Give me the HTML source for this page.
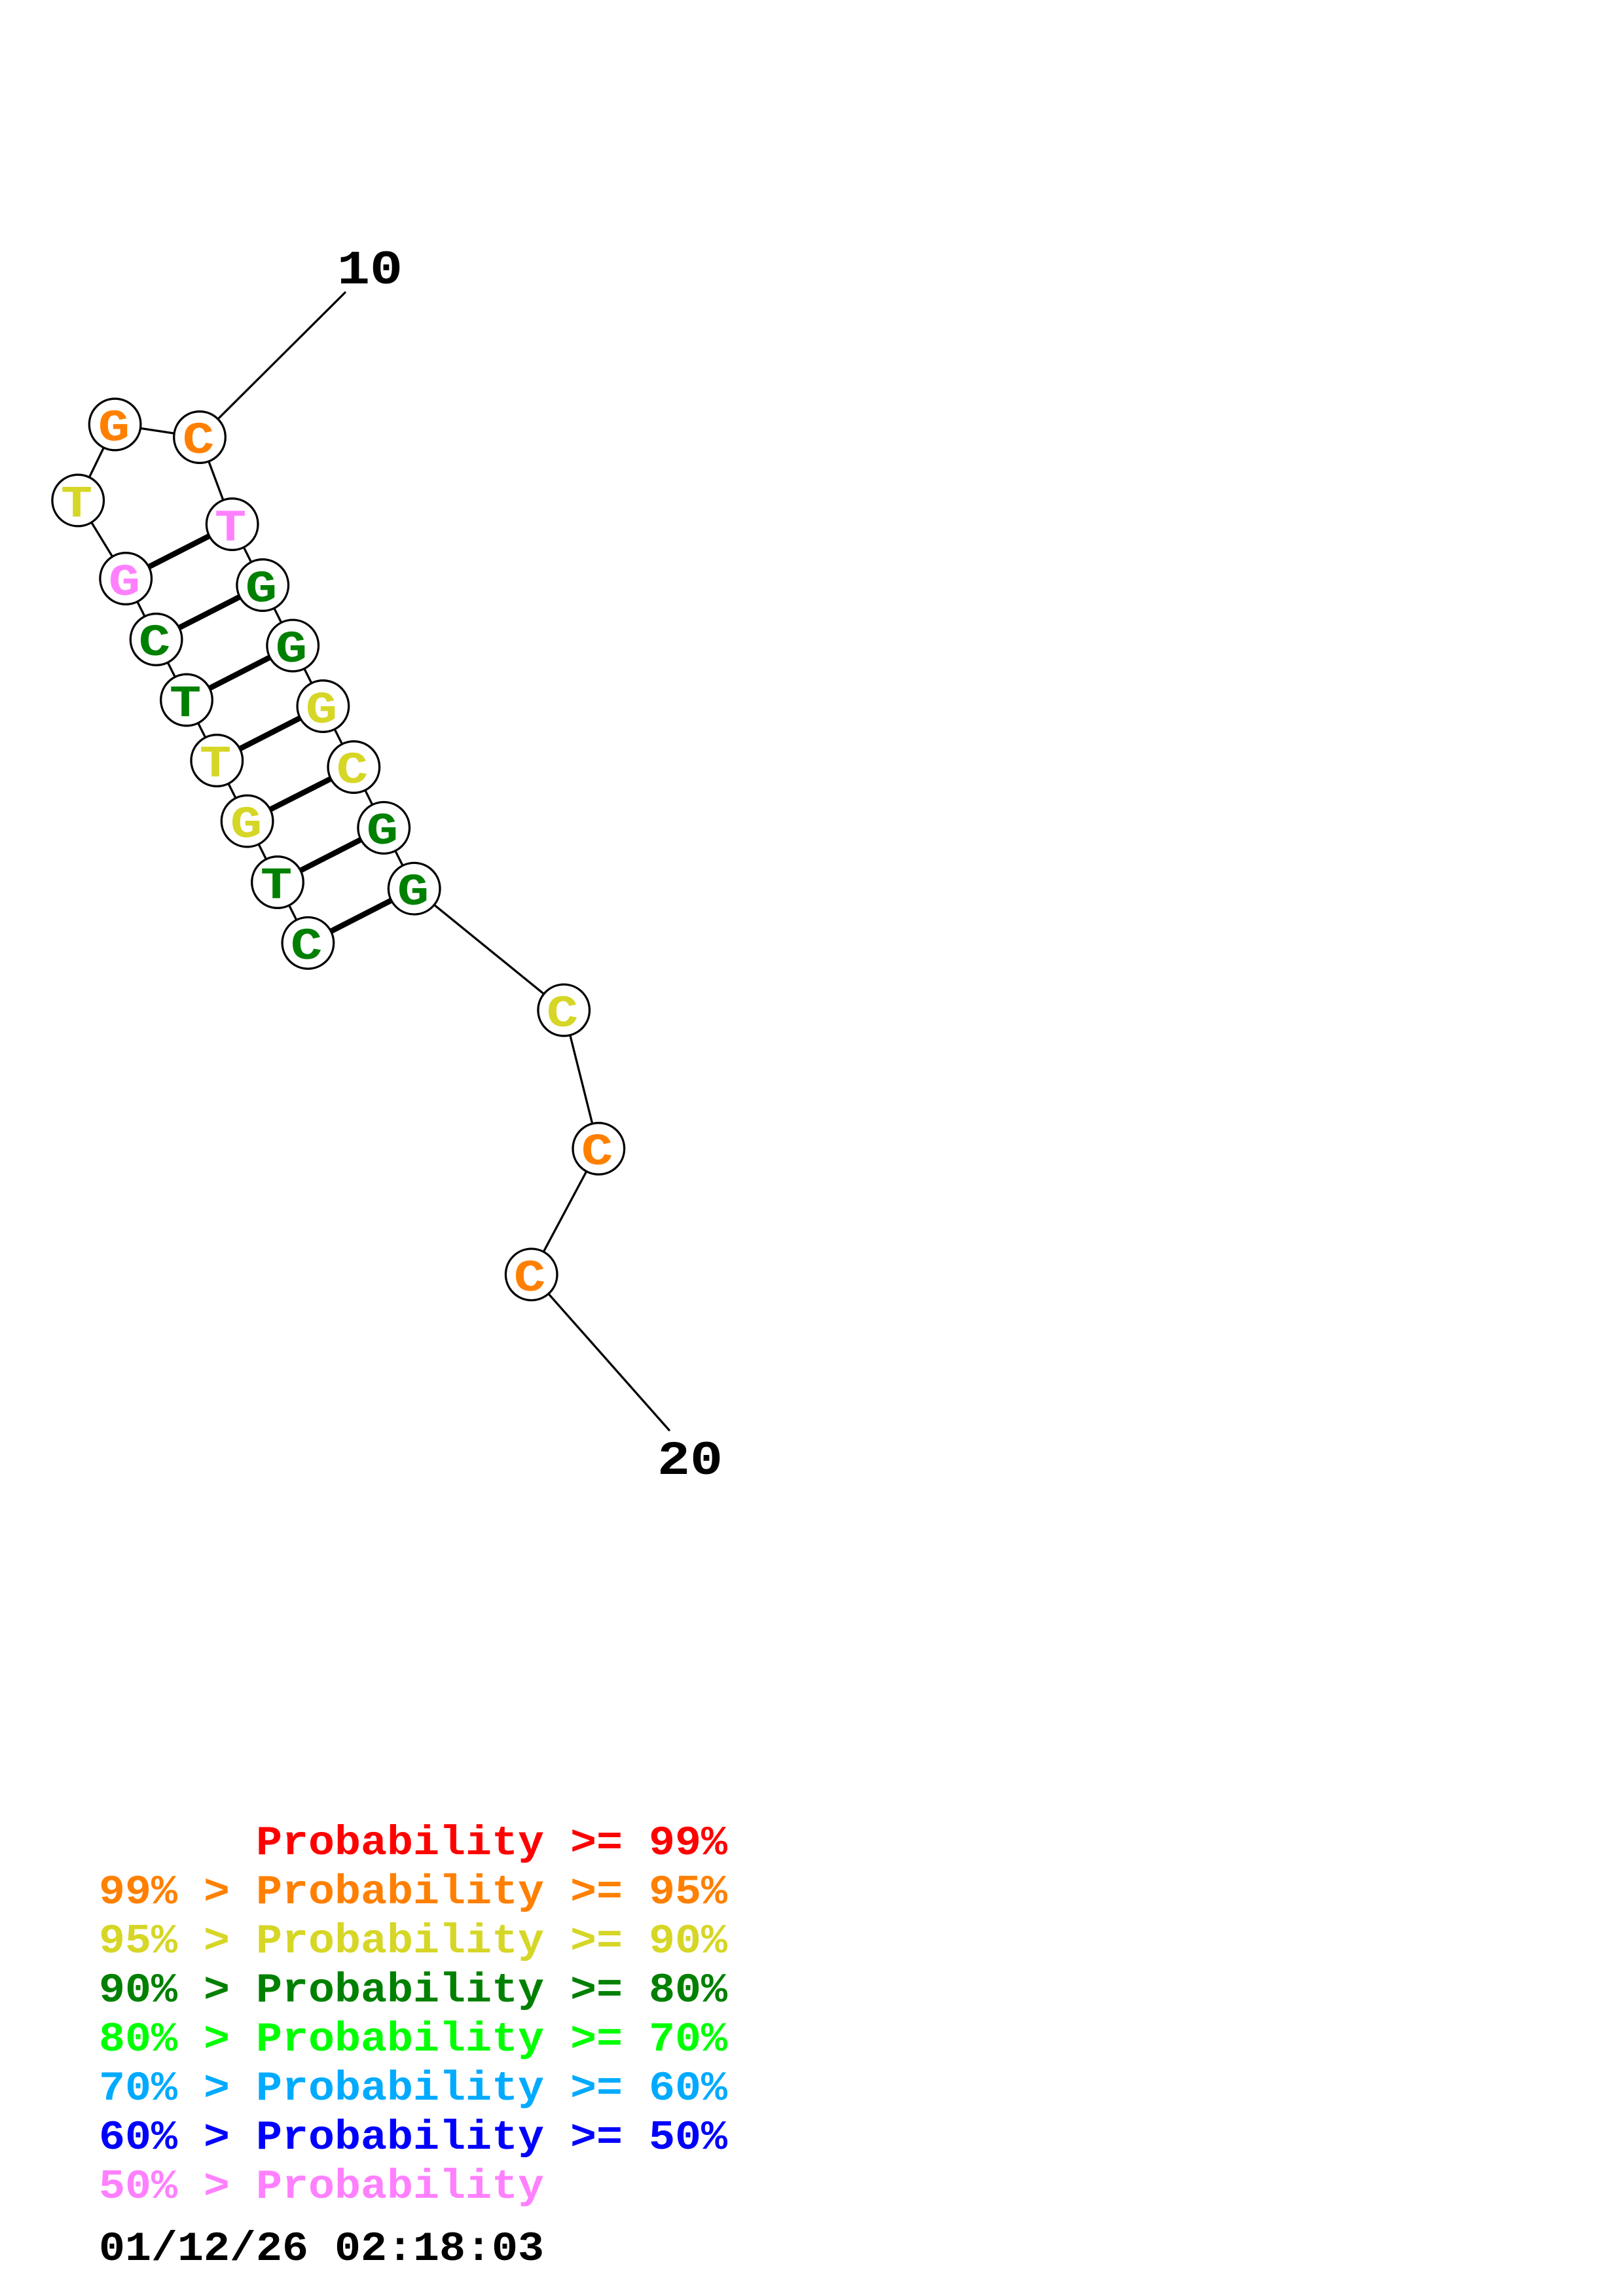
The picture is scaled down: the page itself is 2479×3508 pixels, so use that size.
<!DOCTYPE html>
<html>
<head>
<meta charset="utf-8">
<style>
html,body{margin:0;padding:0;background:#fff;width:2479px;height:3508px;overflow:hidden}
svg{display:block}
text{font-family:"Liberation Mono",monospace;font-weight:bold;white-space:pre}
.n{font-size:76px;text-anchor:middle}
.l{font-size:66.67px}
.k{font-size:83.33px;fill:#000}
.t{stroke:#000;stroke-width:3.3;stroke-linecap:round;fill:none}
.p{stroke:#000;stroke-width:8.5;fill:none}
circle{fill:#fff;stroke:#000;stroke-width:3.3}
</style>
</head>
<body>
<svg xmlns="http://www.w3.org/2000/svg" width="2479" height="3508" viewBox="0 0 2479 3508">
<rect width="2479" height="3508" fill="#fff"/>
<polyline class="t" points="527,447 305,668 175.6,648.5 119.2,764.6 192.2,884 238.6,977 285,1069.5 331.3,1162 377.6,1254.6 424,1348 470.4,1440.8"/>
<polyline class="t" points="305,668 354.7,801 401.2,894 447.2,986.4 493.4,1079 540.3,1172 586.2,1264.8 632.7,1357.7 861.2,1543.4 914.3,1755 811.7,1947.3 1022,2185"/>
<line class="p" x1="192.2" y1="884" x2="354.7" y2="801"/>
<line class="p" x1="238.6" y1="977" x2="401.2" y2="894"/>
<line class="p" x1="285" y1="1069.5" x2="447.2" y2="986.4"/>
<line class="p" x1="331.3" y1="1162" x2="493.4" y2="1079"/>
<line class="p" x1="377.6" y1="1254.6" x2="540.3" y2="1172"/>
<line class="p" x1="424" y1="1348" x2="586.2" y2="1264.8"/>
<line class="p" x1="470.4" y1="1440.8" x2="632.7" y2="1357.7"/>
<circle cx="305" cy="668" r="39.3"/>
<circle cx="175.6" cy="648.5" r="39.3"/>
<circle cx="119.2" cy="764.6" r="39.3"/>
<circle cx="192.2" cy="884" r="39.3"/>
<circle cx="238.6" cy="977" r="39.3"/>
<circle cx="285" cy="1069.5" r="39.3"/>
<circle cx="331.3" cy="1162" r="39.3"/>
<circle cx="377.6" cy="1254.6" r="39.3"/>
<circle cx="424" cy="1348" r="39.3"/>
<circle cx="470.4" cy="1440.8" r="39.3"/>
<circle cx="354.7" cy="801" r="39.3"/>
<circle cx="401.2" cy="894" r="39.3"/>
<circle cx="447.2" cy="986.4" r="39.3"/>
<circle cx="493.4" cy="1079" r="39.3"/>
<circle cx="540.3" cy="1172" r="39.3"/>
<circle cx="586.2" cy="1264.8" r="39.3"/>
<circle cx="632.7" cy="1357.7" r="39.3"/>
<circle cx="861.2" cy="1543.4" r="39.3"/>
<circle cx="914.3" cy="1755" r="39.3"/>
<circle cx="811.7" cy="1947.3" r="39.3"/>
<text class="n" transform="translate(303 692) scale(1.06 .9)" fill="#FF8000">C</text>
<text class="n" transform="translate(174 673) scale(1.06 .9)" fill="#FF8000">G</text>
<text class="n" transform="translate(117 789) scale(1.06 .9)" fill="#D6D626">T</text>
<text class="n" transform="translate(190 909) scale(1.06 .9)" fill="#FF80FF">G</text>
<text class="n" transform="translate(236 1001) scale(1.06 .9)" fill="#008000">C</text>
<text class="n" transform="translate(283 1094) scale(1.06 .9)" fill="#008000">T</text>
<text class="n" transform="translate(329 1186) scale(1.06 .9)" fill="#D6D626">T</text>
<text class="n" transform="translate(376 1279) scale(1.06 .9)" fill="#D6D626">G</text>
<text class="n" transform="translate(422 1372) scale(1.06 .9)" fill="#008000">T</text>
<text class="n" transform="translate(468 1465) scale(1.06 .9)" fill="#008000">C</text>
<text class="n" transform="translate(352 825.5) scale(1.06 .9)" fill="#FF80FF">T</text>
<text class="n" transform="translate(399 919) scale(1.06 .9)" fill="#008000">G</text>
<text class="n" transform="translate(445 1011) scale(1.06 .9)" fill="#008000">G</text>
<text class="n" transform="translate(491 1104) scale(1.06 .9)" fill="#D6D626">G</text>
<text class="n" transform="translate(538 1196) scale(1.06 .9)" fill="#D6D626">C</text>
<text class="n" transform="translate(584 1289) scale(1.06 .9)" fill="#008000">G</text>
<text class="n" transform="translate(631 1382) scale(1.06 .9)" fill="#008000">G</text>
<text class="n" transform="translate(859 1568) scale(1.06 .9)" fill="#D6D626">C</text>
<text class="n" transform="translate(912 1779) scale(1.06 .9)" fill="#FF8000">C</text>
<text class="n" transform="translate(809 1972) scale(1.06 .9)" fill="#FF8000">C</text>
<text class="k" transform="translate(515 433) scale(1 .88)">10</text>
<text class="k" transform="translate(1004 2252) scale(1 .88)">20</text>
<text class="l" transform="translate(151 2833) scale(1 .94)" fill="#FF0000">      Probability &gt;= 99%</text>
<text class="l" transform="translate(151 2908) scale(1 .94)" fill="#FF8000">99% &gt; Probability &gt;= 95%</text>
<text class="l" transform="translate(151 2983) scale(1 .94)" fill="#D6D626">95% &gt; Probability &gt;= 90%</text>
<text class="l" transform="translate(151 3058) scale(1 .94)" fill="#008000">90% &gt; Probability &gt;= 80%</text>
<text class="l" transform="translate(151 3133) scale(1 .94)" fill="#00FF00">80% &gt; Probability &gt;= 70%</text>
<text class="l" transform="translate(151 3208) scale(1 .94)" fill="#00AAFF">70% &gt; Probability &gt;= 60%</text>
<text class="l" transform="translate(151 3283) scale(1 .94)" fill="#0000FF">60% &gt; Probability &gt;= 50%</text>
<text class="l" transform="translate(151 3358) scale(1 .94)" fill="#FF80FF">50% &gt; Probability</text>
<text class="l" transform="translate(151 3453) scale(1 .94)" fill="#000">01/12/26 02:18:03</text>
</svg>
</body>
</html>
